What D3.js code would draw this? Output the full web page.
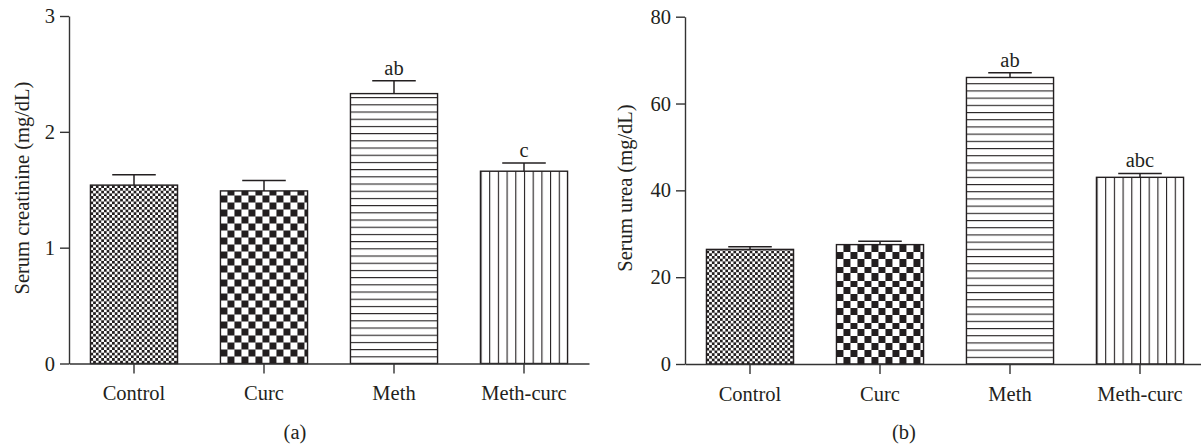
<!DOCTYPE html>
<html>
<head>
<meta charset="utf-8">
<script src="https://cdnjs.cloudflare.com/ajax/libs/d3/7.8.5/d3.min.js"></script>
<style>
  body { margin: 0; background: #fff; }
  svg { display: block; }
  text { font-family: "Liberation Serif", "Times New Roman", serif; fill: #231f20; }
</style>
</head>
<body>
<svg id="chart" width="1201" height="447"></svg>
<script>
// groups on the x axis
const categories = ["Control", "Curc", "Meth", "Meth-curc"];

// panel (a) serum creatinine
const creatinine = [1.54, 1.49, 2.33, 1.66];
const creatinineErr = [0.09, 0.09, 0.11, 0.07];
const creatinineSig = ["", "", "ab", "c"];
const creatinineTicks = [0, 1, 2, 3];

// panel (b) serum urea
const urea = [26.4, 27.5, 66.0, 43.0];
const ureaErr = [0.6, 0.8, 1.1, 0.9];
const ureaSig = ["", "", "ab", "abc"];
const ureaTicks = [0, 20, 40, 60, 80];

const svg = d3.select("#chart");
const defs = svg.append("defs");
const ink = "#231f20";
const fontSize = "20.5px";

// fill patterns, one per group, aligned to each bar
function makePattern(id, kind, x0, y0) {
    let p;
    if (kind === "fine" || kind === "coarse") {
        const c = kind === "fine" ? 2.7 : 7;
        p = defs.append("pattern").attr("id", id)
            .attr("patternUnits", "userSpaceOnUse")
            .attr("x", x0).attr("y", y0)
            .attr("width", 2 * c).attr("height", 2 * c);
        p.append("rect").attr("width", 2 * c).attr("height", 2 * c).attr("fill", "#fff");
        p.append("rect").attr("x", 0).attr("y", 0).attr("width", c).attr("height", c).attr("fill", ink);
        p.append("rect").attr("x", c).attr("y", c).attr("width", c).attr("height", c).attr("fill", ink);
    } else if (kind === "hlines") {
        const s = 7.2;
        p = defs.append("pattern").attr("id", id)
            .attr("patternUnits", "userSpaceOnUse")
            .attr("x", x0).attr("y", y0)
            .attr("width", 20).attr("height", s);
        p.append("rect").attr("width", 20).attr("height", s).attr("fill", "#fff");
        p.append("line").attr("x1", 0).attr("x2", 20).attr("y1", 0.5).attr("y2", 0.5)
            .attr("stroke", ink).attr("stroke-width", 1.2);
    } else {
        const s = 8.7;
        p = defs.append("pattern").attr("id", id)
            .attr("patternUnits", "userSpaceOnUse")
            .attr("x", x0).attr("y", y0)
            .attr("width", s).attr("height", 20);
        p.append("rect").attr("width", s).attr("height", 20).attr("fill", "#fff");
        p.append("line").attr("y1", 0).attr("y2", 20).attr("x1", 0.5).attr("x2", 0.5)
            .attr("stroke", ink).attr("stroke-width", 1.2);
    }
}
const kinds = ["fine", "coarse", "hlines", "vlines"];

function drawPanel(opts) {
    const g = svg.append("g");
    const x = d3.scaleBand()
        .domain(categories)
        .range([opts.left, opts.left + 520])
        .paddingInner(0.33)
        .paddingOuter(0.165);
    const y = d3.scaleLinear()
        .domain([0, opts.max])
        .range([opts.bottom, opts.top]);

    // bars
    categories.forEach((c, i) => {
        makePattern(opts.name + "-pat-" + i, kinds[i], x(c), y(0));
    });
    g.append("g").selectAll("rect")
        .data(categories)
        .enter().append("rect")
        .attr("x", d => x(d))
        .attr("y", (d, i) => y(opts.values[i]))
        .attr("width", x.bandwidth())
        .attr("height", (d, i) => y(0) - y(opts.values[i]))
        .attr("fill", (d, i) => "url(#" + opts.name + "-pat-" + i + ")")
        .attr("stroke", ink)
        .attr("stroke-width", 1.4);

    // error bars (upper only)
    const eb = g.append("g").attr("stroke", ink).attr("stroke-width", 1.5);
    categories.forEach((c, i) => {
        const cx = x(c) + x.bandwidth() / 2;
        const top = y(opts.values[i] + opts.errs[i]);
        eb.append("line").attr("x1", cx).attr("x2", cx)
            .attr("y1", y(opts.values[i])).attr("y2", top);
        eb.append("line").attr("x1", cx - x.bandwidth() / 4).attr("x2", cx + x.bandwidth() / 4)
            .attr("y1", top).attr("y2", top);
        if (opts.sig[i]) {
            g.append("text")
                .attr("x", cx).attr("y", top - 6)
                .attr("text-anchor", "middle")
                .style("font-size", fontSize)
                .text(opts.sig[i]);
        }
    });

    // y axis
    const ya = g.append("g")
        .attr("transform", `translate(${opts.left},0)`)
        .call(d3.axisLeft(y).tickValues(opts.ticks).tickFormat(d => d)
            .tickSize(9).tickSizeOuter(0).tickPadding(5));
    // x axis
    const xa = g.append("g")
        .attr("transform", `translate(0,${opts.bottom})`)
        .call(d3.axisBottom(x).tickSize(10).tickSizeOuter(0).tickPadding(12));
    [ya, xa].forEach(a => {
        a.selectAll("path, line").attr("stroke", "#333").attr("stroke-width", 1.4);
        a.selectAll("text")
            .style("font-family", "'Liberation Serif', serif")
            .style("font-size", fontSize)
            .attr("fill", ink);
    });

    // axis title
    g.append("text")
        .attr("transform", `translate(${opts.titleX},188) rotate(-90)`)
        .attr("text-anchor", "middle")
        .style("font-size", fontSize)
        .text(opts.title);

    // panel label
    g.append("text")
        .attr("x", opts.labelX).attr("y", 439)
        .attr("text-anchor", "middle")
        .style("font-size", fontSize)
        .text(opts.label);
}

drawPanel({
    name: "a", left: 69, top: 16, bottom: 363.5, max: 3,
    values: creatinine, errs: creatinineErr, sig: creatinineSig, ticks: creatinineTicks,
    title: "Serum creatinine (mg/dL)", titleX: 28.5, label: "(a)", labelX: 295
});
drawPanel({
    name: "b", left: 685, top: 16.7, bottom: 364, max: 80,
    values: urea, errs: ureaErr, sig: ureaSig, ticks: ureaTicks,
    title: "Serum urea (mg/dL)", titleX: 631.5, label: "(b)", labelX: 904
});
</script>
</body>
</html>
